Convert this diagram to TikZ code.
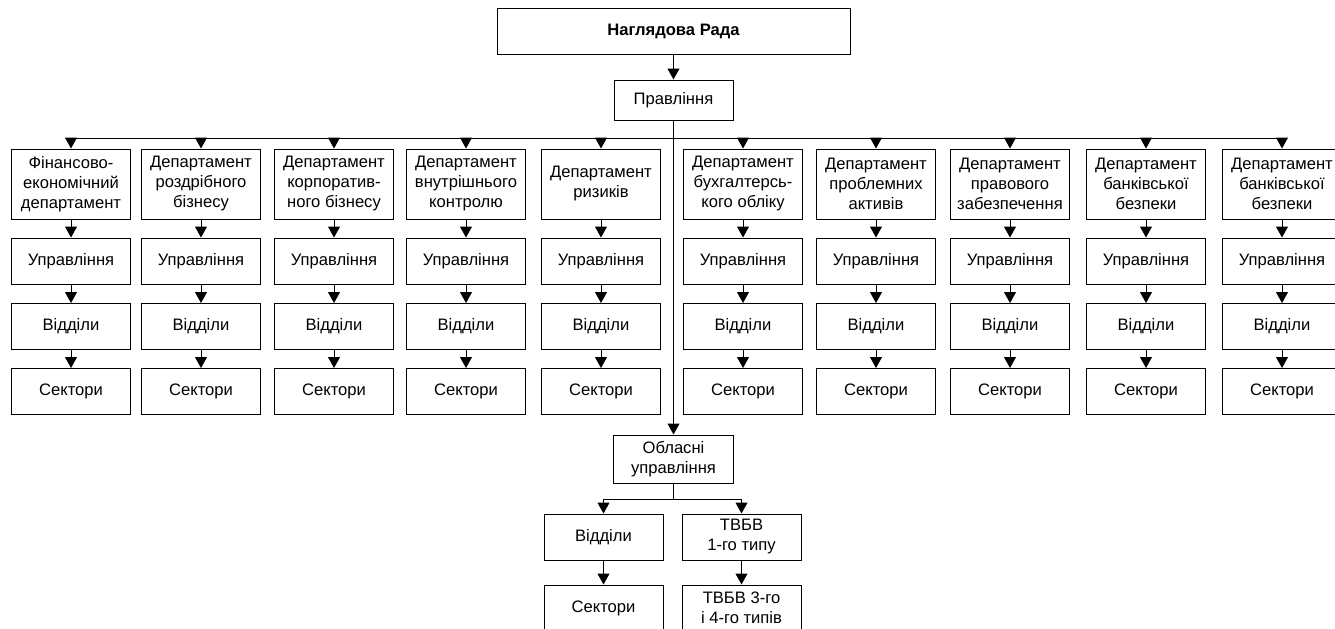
\documentclass[tikz,border=0pt]{standalone}
\usepackage{fontspec}
\setmainfont{Liberation Sans}
\usetikzlibrary{arrows.meta}

\begin{document}
\begin{tikzpicture}[x=0.5pt,y=-0.5pt,line width=0.5pt,
    box/.style={draw,minimum width=59.5pt,minimum height=23pt,inner sep=1pt,
      align=center,font=\fontsize{8.3}{10}\selectfont},
    deptbox/.style={box,minimum height=35pt},
    arr/.style={-{Triangle[width=6pt,length=5.5pt]}}]
    \useasboundingbox (0,0) rectangle (1335,628);

    \node[box,minimum width=176.5pt,font=\bfseries\fontsize{8.3}{10}\selectfont] (rada) at (673.5,31) {Наглядова Рада};
    \node[box,minimum height=20pt] (pravl) at (673.5,100) {Правління};
    \draw[arr] (rada) -- (pravl);

    \coordinate (busL) at (71,138);
    \coordinate (busR) at (1282,138);
    \draw (busL) -- (busR);
    \draw (pravl.south) -- (pravl.south |- busL);

    % departments
    \foreach \x/\t [count=\i] in {71/{Фінансово-\\економічний\\департамент},
        201/{Департамент\\роздрібного\\бізнесу},
        334/{Департамент\\корпоратив-\\ного бізнесу},
        466/{Департамент\\внутрішнього\\контролю},
        601/{Департамент\\ризиків},
        743/{Департамент\\бухгалтерсь-\\кого обліку},
        876/{Департамент\\проблемних\\активів},
        1010/{Департамент\\правового\\забезпечення},
        1146/{Департамент\\банківської\\безпеки},
        1282/{Департамент\\банківської\\безпеки}}{
      \node[deptbox] (d\i) at (\x,184) {\t};
      \node[box] (u\i) at (\x,261) {Управління};
      \node[box] (v\i) at (\x,326.5) {Відділи};
      \node[box] (s\i) at (\x,391.5) {Сектори};
      \draw[arr] (d\i.north |- busL) -- (d\i);
      \draw[arr] (d\i) -- (u\i);
      \draw[arr] (u\i) -- (v\i);
      \draw[arr] (v\i) -- (s\i);
    }

    % regional branch
    \node[box,minimum width=60pt,minimum height=24pt] (obl) at (673.5,459) {Обласні\\управління};
    \draw[arr] (pravl) -- (obl);

    \node[box] (ov) at (603.5,537) {Відділи};
    \node[box] (ot) at (741.5,537) {ТВБВ\\1-го типу};
    \node[box] (os) at (603.5,608) {Сектори};
    \node[box] (ot2) at (741.5,608) {ТВБВ 3-го\\і 4-го типів};

    \coordinate (subbus) at (673.5,499);
    \draw (obl) -- (subbus);
    \draw (ov.north |- subbus) -- (ot.north |- subbus);
    \draw[arr] (ov.north |- subbus) -- (ov);
    \draw[arr] (ot.north |- subbus) -- (ot);
    \draw[arr] (ov) -- (os);
    \draw[arr] (ot) -- (ot2);
\end{tikzpicture}
\end{document}
